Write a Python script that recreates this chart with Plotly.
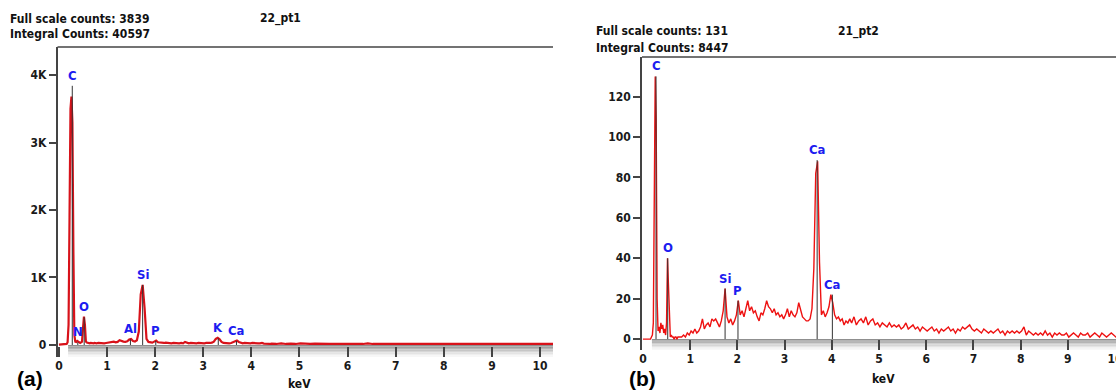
import plotly.graph_objects as go

# ---------------- data: panel (a) 22_pt1 ----------------
# spectrum segments: (start keV, step keV, counts)
a_seg1_start, a_seg1_step = 0.00, 0.02
a_seg1_counts = [5, 5, 5, 5, 5, 5, 8, 8, 15, 40,
                 300, 1900, 3500, 3680, 3300, 1400, 150, 50, 45, 60,
                 45, 35, 30, 40, 50, 250, 420, 300, 50, 35,
                 30, 25, 25, 30, 25, 30, 25, 30, 25]
a_seg2_start, a_seg2_step = 0.78, 0.04
a_seg2_counts = [25, 30, 25, 30, 25, 30, 35, 50, 55, 50,
                 40, 45, 70, 55, 50, 45, 55, 80, 90, 60,
                 50, 70, 200, 750, 890, 550, 90, 45, 40, 35,
                 50, 65, 40, 35, 30, 30, 35, 30, 30, 25,
                 30, 25, 30, 25, 30, 25, 45, 30, 25, 30,
                 25, 30, 25, 30, 25, 30, 25, 30, 25, 30,
                 35, 50, 90, 105, 85, 45, 30, 25, 30, 25,
                 30, 40, 60, 65, 45, 30, 25, 30, 25, 30,
                 25, 30, 25, 30, 25, 25, 30, 20, 15, 20,
                 15]
a_seg3_start, a_seg3_step = 4.42, 0.10
a_seg3_counts = [20, 15, 25, 15, 20, 15, 25, 15, 15, 20,
                 15, 20, 15, 15, 20, 15, 15, 20, 15, 15,
                 25, 15, 15, 15, 15, 15, 15, 15, 15, 15,
                 15, 15, 15, 15, 15, 15, 15, 15, 15, 15,
                 15, 15, 15, 15, 15, 15, 15, 15, 15, 15,
                 15, 15, 15, 15, 15, 15, 15, 15, 15, 15,
                 15]
a_elements = ["C", "N", "O", "Al", "Si", "P", "K", "Ca"]
a_energies = [0.277, 0.392, 0.525, 1.486, 1.740, 2.013, 3.312, 3.690]
a_heights = [3840, 40, 410, 85, 890, 60, 100, 60]
a_yticks = [0, 1000, 2000, 3000, 4000]
a_yticktext = ["0", "1K", "2K", "3K", "4K"]
a_info = ["Full scale counts: 3839", "Integral Counts: 40597", "22_pt1"]

# ---------------- data: panel (b) 21_pt2 ----------------
b_seg1_start, b_seg1_step = 0.00, 0.02
b_seg1_counts = [0, 0, 0, 0, 0, 0, 0, 0, 0, 1,
                 2, 8, 78, 130, 109, 20, 4, 6, 3, 8,
                 5, 7, 3, 5, 2, 8, 40, 26, 4, 1,
                 2, 1, 1, 0, 1, 1, 0, 1, 1]
b_seg2_start, b_seg2_step = 0.78, 0.04
b_seg2_counts = [1, 1, 2, 1, 3, 2, 4, 3, 5, 3,
                 4, 6, 10, 5, 7, 8, 6, 10, 9, 10,
                 8, 6, 9, 14, 25, 11, 8, 10, 7, 9,
                 12, 19, 12, 14, 11, 15, 19, 14, 16, 13,
                 14, 11, 9, 13, 12, 15, 19, 16, 15, 13,
                 15, 12, 13, 11, 12, 10, 12, 15, 11, 14,
                 12, 11, 13, 18, 14, 11, 10, 9, 9, 10,
                 15, 35, 82, 88, 38, 12, 14, 11, 13, 16,
                 22, 18, 12, 10, 11, 9, 10, 7, 9, 8,
                 10]
b_seg3_start, b_seg3_step = 4.42, 0.05
b_seg3_counts = [8, 11, 7, 9, 10, 8, 11, 7, 9, 10,
                 7, 8, 6, 8, 7, 6, 8, 6, 7, 6,
                 7, 5, 6, 8, 5, 6, 7, 5, 6, 4,
                 6, 5, 4, 5, 6, 4, 5, 3, 5, 4,
                 5, 6, 4, 5, 3, 5, 4, 6, 5, 6,
                 7, 5, 4, 5, 4, 3, 5, 4, 3, 4,
                 3, 4, 5, 3, 4, 2, 4, 3, 4, 3,
                 4, 3, 4, 6, 2, 4, 3, 2, 3, 2,
                 3, 2, 4, 2, 3, 1, 3, 2, 3, 2,
                 2, 3, 1, 2, 3, 2, 1, 3, 2, 2,
                 3, 1, 2, 3, 2, 1, 3, 2, 1, 2,
                 3, 2, 1, 2, 3, 2, 2, 1, 2, 2]
b_elements = ["C", "O", "Si", "P", "Ca", "Ca"]
b_energies = [0.277, 0.525, 1.740, 2.013, 3.690, 4.012]
b_heights = [130, 40, 25, 19, 88.6, 22]
b_yticks = [0, 20, 40, 60, 80, 100, 120]
b_info = ["Full scale counts: 131", "Integral Counts: 8447", "21_pt2"]

x_ticks = [0, 1, 2, 3, 4, 5, 6, 7, 8, 9, 10]


def build(segments):
    xs, ys = [], []
    for start, step, counts in segments:
        for i, c in enumerate(counts):
            xs.append(round(start + i * step, 4))
            ys.append(c)
    return xs, ys


def marker_lines(energies, heights):
    xs, ys = [], []
    for e, h in zip(energies, heights):
        xs += [e, e, None]
        ys += [0, h, None]
    return xs, ys


ax, ay = build([(a_seg1_start, a_seg1_step, a_seg1_counts),
                (a_seg2_start, a_seg2_step, a_seg2_counts),
                (a_seg3_start, a_seg3_step, a_seg3_counts)])
bx, by = build([(b_seg1_start, b_seg1_step, b_seg1_counts),
                (b_seg2_start, b_seg2_step, b_seg2_counts),
                (b_seg3_start, b_seg3_step, b_seg3_counts)])

W, H = 1116, 392
FONT = "Liberation Sans Narrow, DejaVu Sans Condensed, Arial Narrow, sans-serif"
AXC = "#444444"

# layout geometry (pixels)
a_left, a_right, a_top, a_bot = 57.5, 553, 47, 357
b_left, b_right, b_top, b_bot = 642, 1116, 57, 350
a_xrange = [-0.03, 10.27]
a_yrange = [-178, 4415]
b_xrange = [-0.02, 10.02]
b_yrange = [-5.4, 139.6]

fig = go.Figure()
fig.add_trace(go.Scatter(x=ax, y=ay, mode="lines", line=dict(color="#d8121a", width=2.2),
                         xaxis="x", yaxis="y", showlegend=False, hoverinfo="skip"))
mx, my = marker_lines(a_energies, a_heights)
fig.add_trace(go.Scatter(x=mx, y=my, mode="lines", line=dict(color="#333333", width=1),
                         xaxis="x", yaxis="y", showlegend=False, hoverinfo="skip"))
fig.add_trace(go.Scatter(x=bx, y=by, mode="lines", line=dict(color="#ee1111", width=1.4),
                         xaxis="x2", yaxis="y2", showlegend=False, hoverinfo="skip"))
mx, my = marker_lines(b_energies, b_heights)
fig.add_trace(go.Scatter(x=mx, y=my, mode="lines", line=dict(color="#333333", width=1),
                         xaxis="x2", yaxis="y2", showlegend=False, hoverinfo="skip"))

tickfont = dict(family=FONT, size=12, color="#1a1a1a", weight="bold")


def xax(left, right, yname):
    return dict(domain=[left / W, right / W], anchor=yname, showgrid=False, zeroline=False,
                showline=False, ticks="inside", ticklen=10, tickwidth=1.5, tickcolor=AXC,
                tickvals=x_ticks, tickfont=tickfont, fixedrange=True, ticklabeloverflow="allow",
                automargin=False)


def yax(top, bot, xname, rng, tv, tt):
    return dict(domain=[1 - bot / H, 1 - top / H], anchor=xname, range=rng, showgrid=False,
                zeroline=False, showline=True, linecolor=AXC, linewidth=1.5, ticks="outside",
                ticklen=7, tickwidth=1.5, tickcolor=AXC, tickvals=tv, ticktext=tt,
                tickfont=tickfont, fixedrange=True, automargin=False)


xa = xax(a_left, a_right, "y"); xa["range"] = a_xrange
xb = xax(b_left, b_right, "y2"); xb["range"] = b_xrange
fig.update_layout(
    width=W, height=H, margin=dict(l=0, r=0, t=0, b=0, pad=0),
    paper_bgcolor="white", plot_bgcolor="white",
    xaxis=xa, xaxis2=xb,
    yaxis=yax(a_top, a_bot, "x", a_yrange, a_yticks, a_yticktext),
    yaxis2=yax(b_top, b_bot, "x2", b_yrange, b_yticks, [str(v) for v in b_yticks]),
)

shapes = []
# grey gradient band below the zero line
grad = ["#8f8f8f", "#a2a2a2", "#b4b4b4", "#c6c6c6", "#d6d6d6", "#e4e4e4", "#efefef", "#f7f7f7"]
for xr, yr, xref, yref in [(a_xrange, a_yrange, "x", "y"), (b_xrange, b_yrange, "x2", "y2")]:
    n = len(grad)
    for i, c in enumerate(grad):
        y0 = yr[0] * i / n
        y1 = yr[0] * (i + 1) / n
        shapes.append(dict(type="rect", xref=xref, yref=yref, x0=0.19, x1=xr[1], y0=y1, y1=y0,
                           fillcolor=c, line=dict(width=0), layer="below"))
    shapes.append(dict(type="line", xref=xref + " domain", yref=yref + " domain", x0=0, x1=1,
                       y0=1, y1=1, line=dict(color=AXC, width=1.5)))
fig.update_layout(shapes=shapes)

ann = []
lblfont = dict(family=FONT, size=13, color="#1c1cf0", weight="bold")
for el, e, h in zip(a_elements, a_energies, a_heights):
    ann.append(dict(x=e, y=h, xref="x", yref="y", text=el, showarrow=False, yanchor="bottom",
                    yshift=1, font=lblfont))
for el, e, h in zip(b_elements, b_energies, b_heights):
    ann.append(dict(x=e, y=h, xref="x2", yref="y2", text=el, showarrow=False, yanchor="bottom",
                    yshift=1, font=lblfont))

infofont = dict(family=FONT, size=12, color="#111111", weight="bold")
for info, x0, ctr, y1, y2 in [(a_info, 8, 280, 19, 34), (b_info, 594, 858, 31, 48)]:
    ann.append(dict(x=x0 / W, y=1 - y1 / H, xref="paper", yref="paper", text=info[0],
                    showarrow=False, xanchor="left", yanchor="middle", font=infofont))
    ann.append(dict(x=x0 / W, y=1 - y2 / H, xref="paper", yref="paper", text=info[1],
                    showarrow=False, xanchor="left", yanchor="middle", font=infofont))
    ann.append(dict(x=ctr / W, y=1 - y1 / H, xref="paper", yref="paper", text=info[2],
                    showarrow=False, xanchor="center", yanchor="middle", font=infofont))

# axis titles and panel letters
ann.append(dict(x=5, y=1 - 384 / H, xref="x", yref="paper", text="keV", showarrow=False,
                yanchor="middle", font=infofont))
ann.append(dict(x=5.1, y=1 - 379 / H, xref="x2", yref="paper", text="keV", showarrow=False,
                yanchor="middle", font=infofont))
letterfont = dict(family="Liberation Sans, Arial, sans-serif", size=21, color="#000000", weight="bold")
ann.append(dict(x=30 / W, y=1 - 378 / H, xref="paper", yref="paper", text="(a)", showarrow=False,
                xanchor="center", yanchor="middle", font=letterfont))
ann.append(dict(x=642 / W, y=1 - 378 / H, xref="paper", yref="paper", text="(b)", showarrow=False,
                xanchor="center", yanchor="middle", font=letterfont))
fig.update_layout(annotations=ann)

fig.write_html("out.html")
